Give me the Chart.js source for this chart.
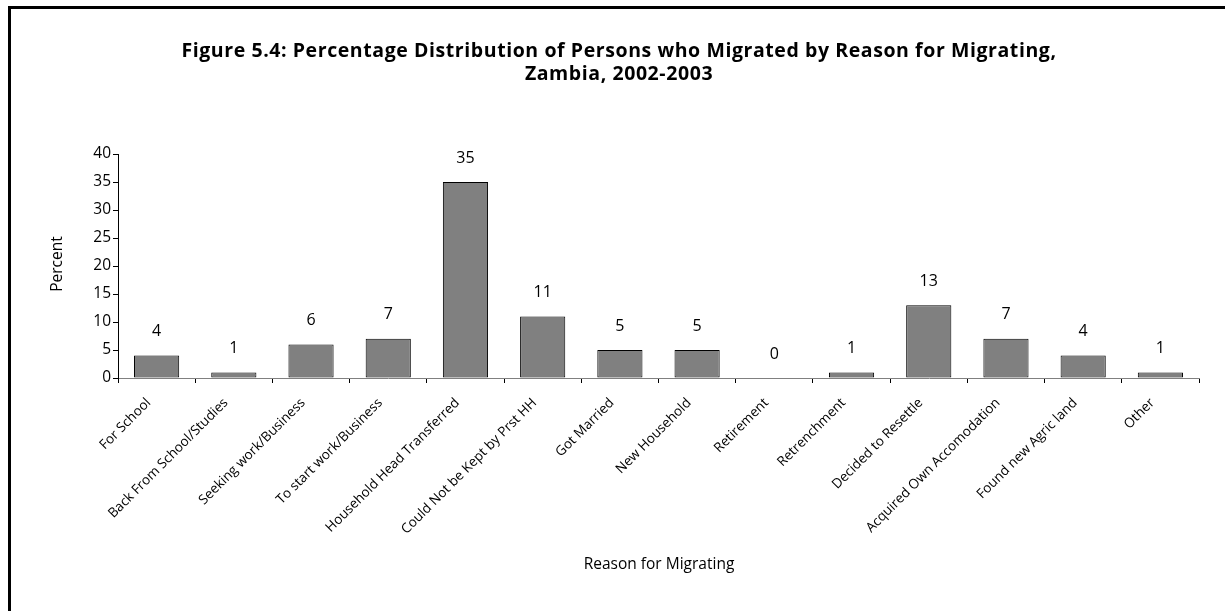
<!DOCTYPE html>
<html>
<head>
<meta charset="utf-8">
<script src="https://cdn.jsdelivr.net/npm/chart.js@4"></script>
<style>
  html, body { margin: 0; padding: 0; background: #fff; overflow: hidden; }
  #wrap { position: relative; width: 1225px; height: 611px; }
  #frame {
    position: absolute; left: 8px; top: 6px; width: 1400px; height: 800px;
    border: 3px solid #000; box-sizing: border-box; pointer-events: none;
  }
  canvas { position: absolute; left: 0; top: 0; }
</style>
</head>
<body>
<div id="wrap">
  <canvas id="chart" width="1225" height="611"></canvas>
  <div id="frame"></div>
</div>
<script>
const FONT = "'Open Sans', Lato, sans-serif";

const titleLines = [
  "Figure 5.4: Percentage Distribution of Persons who Migrated by Reason for Migrating,",
  "Zambia, 2002-2003"
];
const yTitle = "Percent";
const xTitle = "Reason for Migrating";

const reasons = [
  "For School", "Back From School/Studies", "Seeking work/Business",
  "To start work/Business", "Household Head Transferred",
  "Could Not be Kept by Prst HH", "Got Married", "New Household",
  "Retirement", "Retrenchment", "Decided to Resettle",
  "Acquired Own Accomodation", "Found new Agric land", "Other"
];
const percents = [4, 1, 6, 7, 35, 11, 5, 5, 0, 1, 13, 7, 4, 1];

const textPlugin = {
  id: "texts",
  afterDatasetsDraw(chart) {
    const ctx = chart.ctx;
    ctx.save();
    ctx.fillStyle = "#000";
    ctx.textAlign = "center";
    ctx.textBaseline = "middle";
    ctx.font = "16px " + FONT;
    const meta = chart.getDatasetMeta(0);
    meta.data.forEach((bar, i) => {
      ctx.fillText(String(percents[i]), bar.x, bar.y - 24);
    });
    ctx.restore();
  },
  afterDraw(chart) {
    const ctx = chart.ctx;
    ctx.save();
    ctx.fillStyle = "#000";
    ctx.textAlign = "center";
    ctx.textBaseline = "middle";

    // original face is wider than Open Sans: bump size, then a little tracking
    ctx.font = "bold 19.5px " + FONT;
    const w = ctx.measureText(titleLines[0]).width;
    const gap = Math.max(0, Math.min(1, (875 - w) / (titleLines[0].length - 1)));
    ctx.letterSpacing = gap.toFixed(2) + "px";
    ctx.fillText(titleLines[0], 619, 51);
    ctx.fillText(titleLines[1], 619, 74);
    ctx.letterSpacing = "0px";

    ctx.font = "15.5px " + FONT;
    ctx.fillText(xTitle, 659, 565);

    ctx.translate(58, 264);
    ctx.rotate(-Math.PI / 2);
    ctx.fillText(yTitle, 0, 0);
    ctx.restore();
  }
};

new Chart(document.getElementById("chart"), {
  type: "bar",
  data: {
    labels: reasons,
    datasets: [{
      data: percents,
      backgroundColor: "#808080",
      borderColor: "#000",
      borderWidth: 1,
      borderSkipped: false,
      categoryPercentage: 1,
      barPercentage: 0.585
    }]
  },
  options: {
    responsive: false,
    animation: false,
    layout: { padding: { top: 154, right: 26, left: 0, bottom: 0 } },
    plugins: {
      legend: { display: false },
      title: { display: false },
      tooltip: { enabled: false }
    },
    scales: {
      x: {
        offset: true,
        afterFit(scale) { scale.height = 611 - 378; },
        grid: {
          display: true,
          drawOnChartArea: false,
          offset: true,
          tickLength: 5,
          color: "#000"
        },
        border: { color: "#808080", width: 1 },
        ticks: {
          maxRotation: 45,
          minRotation: 45,
          autoSkip: false,
          padding: 12,
          labelOffset: -8,
          color: "#000",
          font: { family: FONT, size: 13.5 }
        }
      },
      y: {
        min: 0,
        max: 40,
        afterFit(scale) { scale.width = 118; },
        grid: {
          display: true,
          drawOnChartArea: false,
          tickLength: 5,
          color: "#000"
        },
        border: { color: "#000", width: 1 },
        ticks: {
          stepSize: 5,
          padding: 2,
          color: "#000",
          font: { family: FONT, size: 15.5 }
        }
      }
    }
  },
  plugins: [textPlugin]
});
</script>
</body>
</html>
